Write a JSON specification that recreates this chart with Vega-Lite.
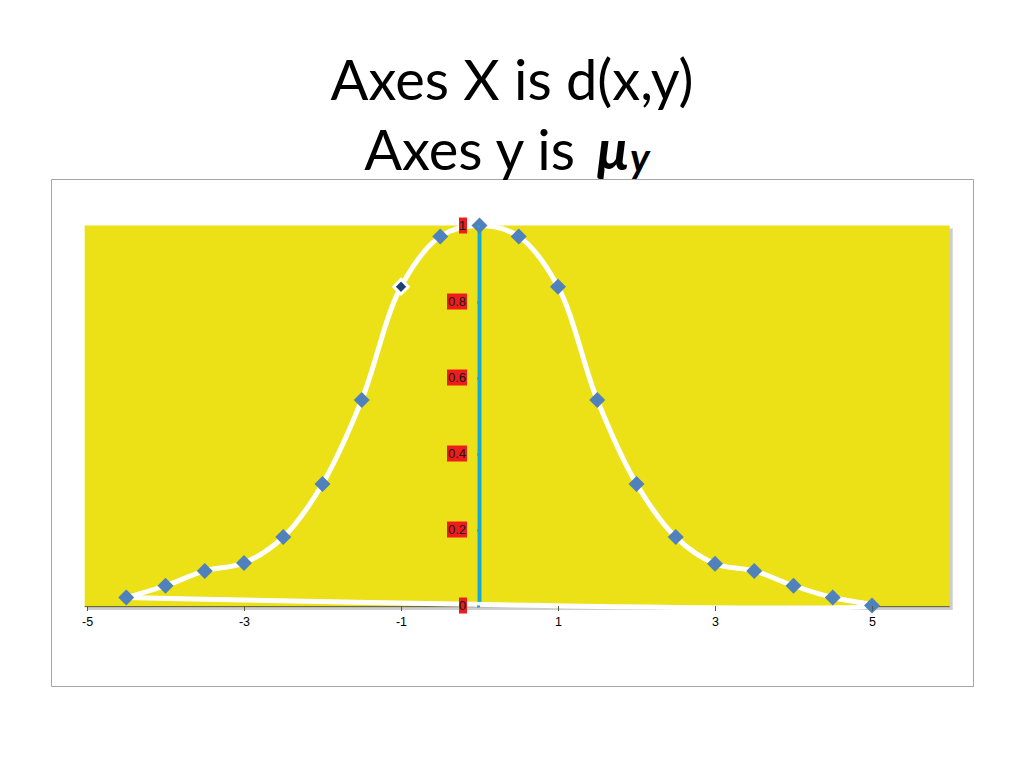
{
  "$schema": "https://vega.github.io/schema/vega-lite/v6.json",
  "width": 922,
  "height": 507,
  "autosize": "none",
  "padding": {"left": 51, "top": 179, "right": 51, "bottom": 82},
  "background": "white",
  "config": {"view": {"stroke": "#a6a6a6", "strokeWidth": 1}},
  "datasets": {
    "points": [
      {"x": -4.5, "y": 0.021},
      {"x": -4, "y": 0.052},
      {"x": -3.5, "y": 0.091},
      {"x": -3, "y": 0.112},
      {"x": -2.5, "y": 0.18},
      {"x": -2, "y": 0.32},
      {"x": -1.5, "y": 0.541},
      {"x": -1, "y": 0.839},
      {"x": -0.5, "y": 0.971},
      {"x": 0, "y": 1},
      {"x": 0.5, "y": 0.971},
      {"x": 1, "y": 0.839},
      {"x": 1.5, "y": 0.541},
      {"x": 2, "y": 0.32},
      {"x": 2.5, "y": 0.18},
      {"x": 3, "y": 0.11},
      {"x": 3.5, "y": 0.091},
      {"x": 4, "y": 0.052},
      {"x": 4.5, "y": 0.021},
      {"x": 5, "y": 0}
    ],
    "path": [
      {"seq": 1, "x": -4.5, "y": 0.021},
      {"seq": 2, "x": -4, "y": 0.052},
      {"seq": 3, "x": -3.5, "y": 0.091},
      {"seq": 4, "x": -3, "y": 0.112},
      {"seq": 5, "x": -2.5, "y": 0.18},
      {"seq": 6, "x": -2, "y": 0.32},
      {"seq": 7, "x": -1.5, "y": 0.541},
      {"seq": 8, "x": -1, "y": 0.839},
      {"seq": 9, "x": -0.5, "y": 0.971},
      {"seq": 10, "x": 0, "y": 1},
      {"seq": 11, "x": 0.5, "y": 0.971},
      {"seq": 12, "x": 1, "y": 0.839},
      {"seq": 13, "x": 1.5, "y": 0.541},
      {"seq": 14, "x": 2, "y": 0.32},
      {"seq": 15, "x": 2.5, "y": 0.18},
      {"seq": 16, "x": 3, "y": 0.11},
      {"seq": 17, "x": 3.5, "y": 0.091},
      {"seq": 18, "x": 4, "y": 0.052},
      {"seq": 19, "x": 4.5, "y": 0.021},
      {"seq": 20, "x": 5, "y": 0},
      {"seq": 21, "x": -4.5, "y": 0.021}
    ],
    "yticks": [
      {"v": 0, "lab": "0"},
      {"v": 0.2, "lab": "0.2"},
      {"v": 0.4, "lab": "0.4"},
      {"v": 0.6, "lab": "0.6"},
      {"v": 0.8, "lab": "0.8"},
      {"v": 1, "lab": "1"}
    ],
    "one": [{}]
  },
  "layer": [
    {
      "data": {"name": "one"},
      "mark": {"type": "rect", "fill": "#9c9c9c", "opacity": 0.5, "xOffset": 3, "x2Offset": 3, "yOffset": 3, "y2Offset": 3},
      "encoding": {
        "x": {"datum": -5.03, "type": "quantitative", "scale": {"domain": [-5.459, 6.287], "nice": false, "zero": false}},
        "x2": {"datum": 5.99},
        "y": {"datum": -0.004, "type": "quantitative", "scale": {"domain": [-0.2118, 1.1224], "nice": false, "zero": false}},
        "y2": {"datum": 1}
      }
    },
    {
      "data": {"name": "one"},
      "mark": {"type": "rect", "fill": "#ebe116"},
      "encoding": {
        "x": {"datum": -5.03, "type": "quantitative"},
        "x2": {"datum": 5.99},
        "y": {"datum": -0.004, "type": "quantitative"},
        "y2": {"datum": 1}
      }
    },
    {
      "data": {"name": "one"},
      "mark": {"type": "rule", "stroke": "#5a5a3a", "strokeWidth": 1},
      "encoding": {
        "x": {"datum": -5.03, "type": "quantitative"},
        "x2": {"datum": 5.99},
        "y": {"datum": -0.003, "type": "quantitative"}
      }
    },
    {
      "data": {"name": "one"},
      "mark": {"type": "rule", "stroke": "#19a9d7", "strokeWidth": 4},
      "encoding": {
        "x": {"datum": 0, "type": "quantitative"},
        "y": {"datum": 0, "type": "quantitative"},
        "y2": {"datum": 1}
      }
    },
    {
      "data": {"name": "path"},
      "mark": {"type": "line", "interpolate": "catmull-rom", "stroke": "white", "strokeWidth": 5},
      "encoding": {
        "x": {"field": "x", "type": "quantitative"},
        "y": {"field": "y", "type": "quantitative"},
        "order": {"field": "seq", "type": "quantitative"}
      }
    },
    {
      "data": {"name": "points"},
      "mark": {"type": "point", "shape": "diamond", "filled": true, "opacity": 1},
      "encoding": {
        "x": {
          "field": "x", "type": "quantitative",
          "axis": {
            "orient": "bottom", "offset": -80.5, "values": [-5, -3, -1, 1, 3, 5],
            "labelExpr": "'' + datum.value", "domain": false, "grid": false,
            "tickSize": 5, "tickColor": "#5a5a3a", "labelFont": "Liberation Sans",
            "labelFontSize": 12.5, "labelColor": "#000000", "labelPadding": 5,
            "title": null, "zindex": 1
          }
        },
        "y": {
          "field": "y", "type": "quantitative",
          "axis": {
            "orient": "left", "offset": -428.5, "values": [0, 0.2, 0.4, 0.6, 0.8, 1],
            "domain": false, "grid": false, "labels": false, "tickSize": 3,
            "tickColor": "#19a9d7", "tickWidth": 2, "title": null, "zindex": 1
          }
        },
        "color": {"condition": {"test": "datum.x == -1", "value": "#1f3f73"}, "value": "#4f81bd"},
        "size": {"condition": {"test": "datum.x == -1", "value": 210}, "value": 256},
        "stroke": {"condition": {"test": "datum.x == -1", "value": "white"}, "value": "#4f81bd"},
        "strokeWidth": {"condition": {"test": "datum.x == -1", "value": 3}, "value": 0}
      }
    },
    {
      "data": {"name": "yticks"},
      "transform": [{"filter": "length(datum.lab) == 1"}],
      "mark": {"type": "rect", "fill": "#ee1c1c", "xOffset": -20.5, "x2Offset": -12.5, "yOffset": -8, "y2Offset": 8},
      "encoding": {
        "x": {"datum": 0, "type": "quantitative"},
        "x2": {"datum": 0},
        "y": {"field": "v", "type": "quantitative"},
        "y2": {"field": "v"}
      }
    },
    {
      "data": {"name": "yticks"},
      "transform": [{"filter": "length(datum.lab) > 1"}],
      "mark": {"type": "rect", "fill": "#ee1c1c", "xOffset": -32.5, "x2Offset": -12.5, "yOffset": -8, "y2Offset": 8},
      "encoding": {
        "x": {"datum": 0, "type": "quantitative"},
        "x2": {"datum": 0},
        "y": {"field": "v", "type": "quantitative"},
        "y2": {"field": "v"}
      }
    },
    {
      "data": {"name": "yticks"},
      "mark": {"type": "text", "align": "right", "baseline": "middle", "dx": -13.5, "font": "Liberation Sans", "fontSize": 13, "color": "#1a1a1a"},
      "encoding": {
        "x": {"datum": 0, "type": "quantitative"},
        "y": {"field": "v", "type": "quantitative"},
        "text": {"field": "lab"}
      }
    },
    {
      "data": {"name": "one"},
      "mark": {"type": "text", "align": "center", "baseline": "alphabetic", "font": "Lato", "fontSize": 56, "color": "#000000"},
      "encoding": {
        "x": {"datum": 0.414, "type": "quantitative"},
        "y": {"datum": 1.3303, "type": "quantitative"},
        "text": {"value": "Axes X is d(x,y)"}
      }
    },
    {
      "data": {"name": "one"},
      "mark": {"type": "text", "align": "right", "baseline": "alphabetic", "font": "Lato", "fontSize": 56, "color": "#000000"},
      "encoding": {
        "x": {"datum": 1.217, "type": "quantitative"},
        "y": {"datum": 1.146, "type": "quantitative"},
        "text": {"value": "Axes y is"}
      }
    },
    {
      "data": {"name": "one"},
      "mark": {"type": "text", "align": "left", "baseline": "alphabetic", "font": "Lato", "fontSize": 56, "fontWeight": "bold", "fontStyle": "italic", "color": "#000000"},
      "encoding": {
        "x": {"datum": 1.497, "type": "quantitative"},
        "y": {"datum": 1.146, "type": "quantitative"},
        "text": {"value": "μ"}
      }
    },
    {
      "data": {"name": "one"},
      "mark": {"type": "text", "align": "left", "baseline": "alphabetic", "font": "Lato", "fontSize": 40, "fontWeight": "bold", "fontStyle": "italic", "color": "#000000"},
      "encoding": {
        "x": {"datum": 1.917, "type": "quantitative"},
        "y": {"datum": 1.141, "type": "quantitative"},
        "text": {"value": "y"}
      }
    }
  ]
}
